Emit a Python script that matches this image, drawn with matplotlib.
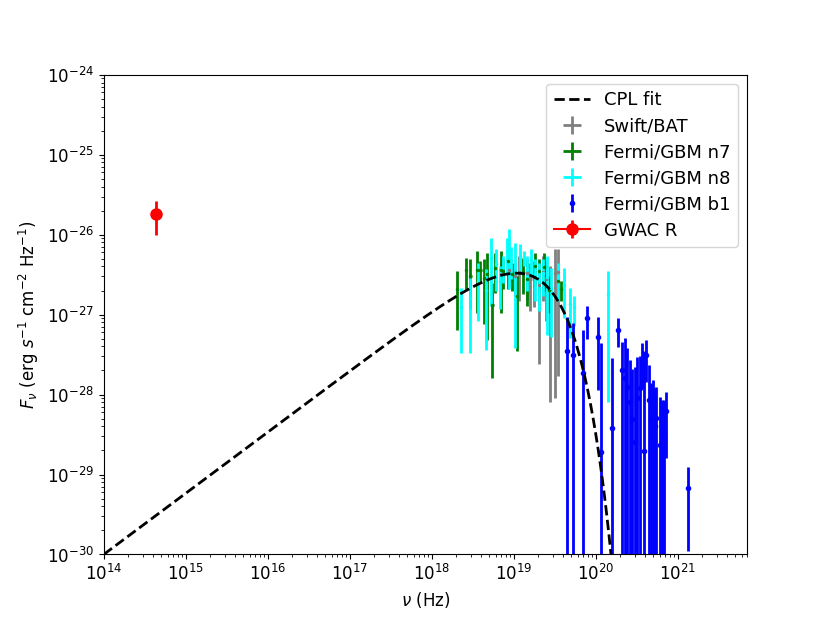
import numpy as np
import matplotlib
matplotlib.use('Agg')
import matplotlib.pyplot as plt

# flux values below are in units of 1e-27 erg s^-1 cm^-2 Hz^-1
unit = 1e-27

# Swift/BAT
bat_nu = [7.09e18, 8.87e18, 1.05e19, 1.17e19, 1.44e19, 1.60e19, 1.77e19,
          2.05e19, 2.25e19, 2.50e19, 2.80e19, 3.19e19, 3.50e19]
bat_f = [3.21, 3.63, 3.08, 3.45, 3.27, 2.77, 2.96, 2.33, 3.45, 2.76, 2.07, 3.34, 3.38]
bat_e = [1.22, 1.33, 1.35, 1.95, 1.69, 1.65, 1.73, 2.09, 1.95, 1.92, 1.99, 3.25, 3.21]

# Fermi/GBM n7
n7_nu = [2.05e18, 2.59e18, 2.97e18, 3.55e18, 3.93e18, 4.40e18, 4.75e18, 5.51e18,
         5.87e18, 6.95e18, 7.49e18, 8.55e18, 9.46e18, 1.11e19, 1.28e19, 1.47e19,
         1.82e19, 2.05e19, 2.32e19, 2.72e19, 3.43e19, 3.81e19]
n7_f = [2.08, 3.60, 3.07, 3.64, 3.59, 2.86, 3.18, 1.33, 3.88, 3.64, 3.53, 4.65,
        3.21, 1.70, 3.46, 2.80, 4.09, 3.47, 3.94, 2.06, 2.65, 2.08]
n7_e = [1.44, 1.50, 1.88, 2.58, 1.09, 2.09, 2.70, 1.17, 2.00, 2.58, 1.42, 2.54,
        1.22, 1.35, 1.64, 1.50, 1.79, 1.48, 1.95, 1.00, 1.07, 0.58]

# Fermi/GBM n8
n8_nu = [2.25e18, 2.95e18, 3.65e18, 4.62e18, 5.35e18, 6.04e18, 6.83e18, 7.49e18,
         8.38e18, 8.79e18, 9.38e18, 1.03e19, 1.18e19, 1.34e19, 1.47e19, 1.61e19,
         1.84e19, 2.05e19, 2.30e19, 2.55e19, 2.88e19, 3.50e19, 4.14e19, 4.90e19,
         5.48e19, 1.42e20]
n8_f = [1.25, 1.61, 2.63, 2.04, 5.16, 4.29, 2.63, 3.95, 6.18, 6.89, 4.89, 4.10,
        5.47, 5.14, 3.70, 4.82, 3.23, 2.77, 3.34, 2.98, 2.18, 2.96, 2.37, 1.34,
        1.23, 1.80]
n8_e = [0.92, 1.28, 1.79, 1.68, 3.86, 2.30, 1.44, 1.45, 2.85, 4.78, 2.09, 3.72,
        2.14, 1.08, 1.71, 1.77, 1.73, 1.65, 1.61, 2.42, 1.66, 1.46, 1.47, 0.83,
        0.50, 1.72]

# Fermi/GBM b1
b1_nu = [4.46e19, 5.22e19, 6.91e19, 7.81e19, 1.08e20, 1.17e20, 1.57e20, 1.89e20,
         2.08e20, 2.29e20, 2.44e20, 2.63e20, 2.78e20, 3.02e20, 3.23e20, 3.48e20,
         3.71e20, 3.89e20, 4.15e20, 4.48e20, 4.73e20, 5.01e20, 5.29e20, 5.49e20,
         6.04e20, 6.50e20, 6.81e20, 7.21e20, 1.335e21]
b1_f = [0.349, 0.31, 0.188, 0.90, 0.522, 0.019, 0.0387, 0.645, 0.203, 0.16,
        0.125, 0.08, 0.05, 0.0253, 0.0912, 0.12, 0.28, 0.0196, 0.311, 0.0863,
        0.05, 0.0317, 0.04, 0.0515, 0.0232, 0.030, 0.03, 0.062, 0.00675]
b1_e = [0.58, 0.466, 0.447, 0.40, 0.407, 0.419, 0.247, 0.255, 0.248, 0.346,
        0.255, 0.19, 0.16, 0.196, 0.203, 0.18, 0.16, 0.33, 0.167, 0.148,
        0.09, 0.121, 0.08, 0.0735, 0.071, 0.056, 0.055, 0.046, 0.00565]

# GWAC R band
gwac_nu = [4.3e14]
gwac_f = [18.0]
gwac_e = [8.0]

# cutoff power-law fit
cpl_index = 0.765
cpl_cut = 1.41e19
cpl_norm = 1.15e-27

fig = plt.figure(figsize=(8.3, 6.23), dpi=100)
ax = plt.gca()

def sc(v):
    return np.array(v) * unit

ax.errorbar(bat_nu, sc(bat_f), yerr=sc(bat_e), xerr=np.array(bat_nu) * 0.03,
            fmt='.', color='gray', markersize=3, elinewidth=2, label='Swift/BAT')
ax.errorbar(n7_nu, sc(n7_f), yerr=sc(n7_e), xerr=np.array(n7_nu) * 0.03,
            fmt='.', color='green', markersize=3, elinewidth=2, label='Fermi/GBM n7')
ax.errorbar(n8_nu, sc(n8_f), yerr=sc(n8_e), xerr=np.array(n8_nu) * 0.03,
            fmt='.', color='cyan', markersize=3, elinewidth=2, label='Fermi/GBM n8')
ax.errorbar(b1_nu, sc(b1_f), yerr=sc(b1_e), fmt='.', color='blue',
            markersize=6, elinewidth=2, label='Fermi/GBM b1')
ax.errorbar(gwac_nu, sc(gwac_f), yerr=sc(gwac_e), marker='o', color='red',
            markersize=8, elinewidth=2, label='GWAC R')

nu = np.logspace(14, 20.4, 400)
model = cpl_norm * (nu / 1e18) ** cpl_index * np.exp(-nu / cpl_cut)
ax.plot(nu, model, 'k--', lw=2, label='CPL fit', zorder=5)

ax.set_xscale('log')
ax.set_yscale('log')
ax.set_xlim(1e14, 7e21)
ax.set_ylim(1e-30, 1e-24)
ax.set_xlabel(r'$\nu$ (Hz)', fontsize=12)
ax.set_ylabel(r'$F_{\nu}$ (erg $s^{-1}$ cm$^{-2}$ Hz$^{-1}$)', fontsize=12)
ax.tick_params(labelsize=12)
ax.legend(loc='upper right', fontsize=13, labelspacing=0.45)

plt.savefig('out.png')
